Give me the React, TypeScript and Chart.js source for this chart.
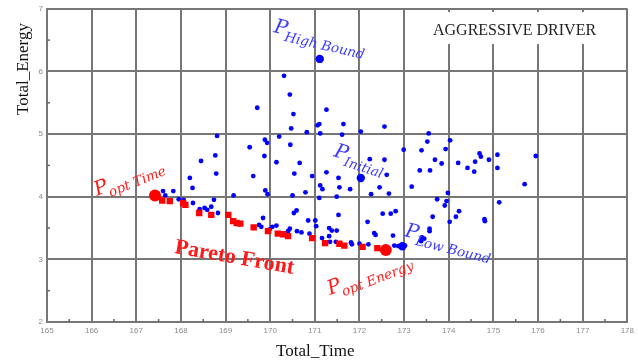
import React, { useEffect, useRef } from "react";
import { Chart, registerables } from "chart.js";

Chart.register(...registerables);

// Blue: all evaluated solutions (Total_Time, Total_Energy)
const solutionTime = [
  170.31, 170.44, 169.71, 170.52, 171.26, 171.06, 171.1, 170.47, 171.64, 170.82, 171.12, 171.61, 172.03, 172.56,
  170.2, 170.45, 172.99, 172.23, 172.56, 173.55, 173.52, 174.03, 173.39, 173.93, 174.69, 174.72, 175.09, 175.95,
  173.69, 173.84, 174.21, 174.42, 174.59, 174.9, 174.57, 175.09, 173.35, 173.58, 172.61, 171.26, 171.53, 175.7,
  173.98, 173.74, 173.95, 173.91, 175.13, 174.23, 173.64, 174.16, 174.8, 174.81, 174.02, 173.57, 173.57, 173.17,
  172.66, 172.45, 172.26, 171.79, 171.55, 171.17, 171.1, 171.49, 171.53, 172.52, 172.7, 172.81, 172.18, 171.32,
  171.38, 171.49, 172.33, 172.36, 172.75, 171.16, 171.32, 171.34, 171.47, 171.81, 171.83, 172.0, 172.2, 172.78,
  172.87, 173.02, 173.4, 173.45, 173.38, 170.14, 170.66, 170.54, 170.94, 171.12, 170.5, 170.79, 170.53, 170.59,
  170.85, 171.01, 171.03, 170.44, 170.4, 170.6, 170.7, 170.88, 170.05, 170.14, 169.99, 167.6, 167.65, 167.83,
  167.95, 168.06, 168.26, 168.27, 168.42, 168.53, 168.59, 168.68, 168.83, 168.74, 169.18, 169.89, 169.94, 168.81,
  169.54, 169.88, 169.93, 168.77, 169.87, 168.45, 168.79, 169.62, 168.2, 169.84, 169.75, 169.8,
];
const solutionEnergy = [
  5.93, 5.63, 5.42, 5.32, 5.39, 5.14, 5.16, 5.09, 5.16, 5.03, 5.01, 4.99, 5.04, 5.12,
  4.96, 4.83, 4.75, 4.6, 4.59, 5.01, 4.88, 4.9, 4.74, 4.76, 4.69, 4.64, 4.67, 4.65,
  4.59, 4.53, 4.54, 4.46, 4.56, 4.59, 4.4, 4.46, 4.42, 4.42, 4.35, 4.39, 4.3, 4.2,
  4.06, 3.96, 3.93, 3.86, 3.91, 3.77, 3.68, 3.68, 3.64, 3.61, 3.6, 3.49, 3.45, 4.16,
  4.05, 4.15, 4.04, 4.12, 4.15, 4.12, 3.98, 4.0, 3.71, 3.73, 3.73, 3.77, 3.6, 3.5,
  3.46, 3.46, 3.42, 3.39, 3.38, 3.34, 3.37, 3.28, 3.28, 3.27, 3.24, 3.25, 3.24, 3.22,
  3.21, 3.22, 3.35, 3.33, 3.29, 4.55, 4.54, 4.37, 4.33, 4.18, 4.02, 4.07, 3.74, 3.78,
  3.62, 3.62, 3.53, 3.49, 3.45, 3.45, 3.43, 3.41, 3.52, 3.54, 3.48, 4.09, 4.02, 4.09,
  3.96, 3.95, 4.14, 3.9, 3.8, 3.82, 3.79, 3.84, 3.74, 3.95, 4.02, 4.1, 4.04, 4.97,
  4.79, 4.91, 4.86, 4.66, 4.65, 4.57, 4.37, 4.33, 4.3, 3.66, 3.55, 3.52,
];

// Red squares: Pareto front
const paretoTime = [
  167.58, 167.75, 168.05, 168.1, 168.41, 168.68, 169.06, 169.17, 169.25, 169.33, 169.63, 169.95, 170.17, 170.29,
  170.4, 170.94, 171.23, 171.55, 171.66, 172.07, 172.4,
];
const paretoEnergy = [
  3.94, 3.93, 3.9, 3.87, 3.74, 3.71, 3.71, 3.61, 3.58, 3.57, 3.51, 3.45, 3.41, 3.4,
  3.37, 3.34, 3.26, 3.25, 3.22, 3.2, 3.18,
];

// Named design points
const boundNames = ["High Bound", "Initial", "Low Bound"];
const boundTime = [171.11, 172.03, 172.96];
const boundEnergy = [6.2, 4.3, 3.21];

const optNames = ["opt Time", "opt Energy"];
const optTime = [167.42, 172.59];
const optEnergy = [4.02, 3.15];

const xTicks = [165, 166, 167, 168, 169, 170, 171, 172, 173, 174, 175, 176, 177, 178];
const yTicks = [2, 3, 4, 5, 6, 7];

const zip = (xs: number[], ys: number[]) => xs.map((x, i) => ({ x, y: ys[i] }));

function drawLabel(ctx: CanvasRenderingContext2D, x: number, y: number, deg: number, main: string, sub: string, color: string) {
  ctx.save();
  ctx.translate(x, y);
  ctx.rotate((deg * Math.PI) / 180);
  ctx.fillStyle = color;
  ctx.textAlign = "left";
  ctx.textBaseline = "alphabetic";
  ctx.font = 'italic 20px "DejaVu Serif"';
  ctx.fillText(main, 0, 0);
  const w = ctx.measureText(main).width;
  ctx.font = 'italic 13.5px "DejaVu Serif"';
  ctx.fillText(sub, w - 1, 6);
  ctx.restore();
}

const overlay = {
  id: "overlay",
  afterDraw(chart: any) {
    const ctx: CanvasRenderingContext2D = chart.ctx;
    const { left, bottom } = chart.chartArea;
    const xs = chart.scales.x;
    const ys = chart.scales.y;
    ctx.save();
    // minor ticks (inward)
    ctx.strokeStyle = "#666";
    ctx.lineWidth = 1.5;
    for (let i = 0; i < xTicks.length - 1; i++) {
      const px = xs.getPixelForValue(xTicks[i] + 0.5);
      ctx.beginPath();
      ctx.moveTo(px, bottom);
      ctx.lineTo(px, bottom - 3);
      ctx.stroke();
    }
    for (let i = 0; i < yTicks.length - 1; i++) {
      const py = ys.getPixelForValue(yTicks[i] + 0.5);
      ctx.beginPath();
      ctx.moveTo(left, py);
      ctx.lineTo(left + 3, py);
      ctx.stroke();
    }
    // title box
    ctx.fillStyle = "#ffffff";
    ctx.fillRect(425, 12, 200, 32);
    ctx.fillStyle = "#222222";
    ctx.font = '16px "Liberation Serif"';
    ctx.textAlign = "left";
    ctx.textBaseline = "alphabetic";
    ctx.fillText("AGGRESSIVE DRIVER", 433, 35);

    // axis titles
    ctx.fillStyle = "#111111";
    ctx.font = '17px "Liberation Serif"';
    ctx.fillText("Total_Time", 276, 356);
    ctx.save();
    ctx.translate(28, 115);
    ctx.rotate(-Math.PI / 2);
    ctx.fillText("Total_Energy", 0, 0);
    ctx.restore();

    // annotations
    const blue = "#3b3bff";
    const red = "#ff1a1a";
    drawLabel(ctx, 273, 32, 13, "P", boundNames[0], blue);
    drawLabel(ctx, 333, 156, 18, "P", boundNames[1], blue);
    drawLabel(ctx, 404, 236, 14, "P", boundNames[2], blue);
    drawLabel(ctx, 97, 196, -22, "P", optNames[0], red);
    drawLabel(ctx, 330, 295, -21, "P", optNames[1], red);

    ctx.save();
    ctx.translate(174, 253);
    ctx.rotate((10 * Math.PI) / 180);
    ctx.fillStyle = red;
    ctx.font = 'bold 22px "Liberation Serif"';
    ctx.fillText("Pareto Front", 0, 0);
    ctx.restore();

    ctx.restore();
  },
};

export default function App() {
  const ref = useRef<HTMLCanvasElement | null>(null);
  useEffect(() => {
    if (!ref.current) return;
    const gridColor = "#777777";
    const chart = new Chart(ref.current, {
      type: "scatter",
      data: {
        datasets: [
          {
            label: "Optimum",
            data: zip(optTime, optEnergy),
            backgroundColor: "#ff0000",
            borderWidth: 0,
            pointRadius: 6,
          },
          {
            label: "Pareto Front",
            data: zip(paretoTime, paretoEnergy),
            backgroundColor: "#ff0000",
            borderWidth: 0,
            pointStyle: "rect",
            pointRadius: 4.5,
          },
          {
            label: "Bounds",
            data: zip(boundTime, boundEnergy),
            backgroundColor: "#0000ff",
            borderWidth: 0,
            pointRadius: 4.2,
          },
          {
            label: "Solutions",
            data: zip(solutionTime, solutionEnergy),
            backgroundColor: "#0000ff",
            borderWidth: 0,
            pointRadius: 2.4,
          },
        ],
      },
      options: {
        responsive: false,
        animation: false,
        events: [],
        layout: { padding: { top: 8, right: 10, left: 0, bottom: 0 } },
        plugins: { legend: { display: false }, tooltip: { enabled: false }, title: { display: false } },
        scales: {
          x: {
            type: "linear",
            min: xTicks[0],
            max: xTicks[xTicks.length - 1],
            afterFit: (s: any) => {
              s.height = 40;
            },
            afterBuildTicks: (s: any) => {
              s.ticks = xTicks.map((v) => ({ value: v }));
            },
            grid: { color: gridColor, lineWidth: 2, drawTicks: false },
            border: { color: gridColor, width: 2 },
            ticks: { color: "#8a8a8a", font: { family: "Liberation Sans", size: 8 }, padding: 4 },
          },
          y: {
            type: "linear",
            min: yTicks[0],
            max: yTicks[yTicks.length - 1],
            afterFit: (s: any) => {
              s.width = 47;
            },
            afterBuildTicks: (s: any) => {
              s.ticks = yTicks.map((v) => ({ value: v }));
            },
            grid: { color: gridColor, lineWidth: 2, drawTicks: false },
            border: { color: gridColor, width: 2 },
            ticks: { color: "#8a8a8a", font: { family: "Liberation Sans", size: 8 }, padding: 4 },
          },
        },
      },
      plugins: [overlay],
    } as any);
    return () => chart.destroy();
  }, []);
  return (
    <div style={{ position: "fixed", left: 0, top: 0, width: 638, height: 362, background: "#fff" }}>
      <canvas ref={ref} width={638} height={362} style={{ display: "block" }} />
    </div>
  );
}
